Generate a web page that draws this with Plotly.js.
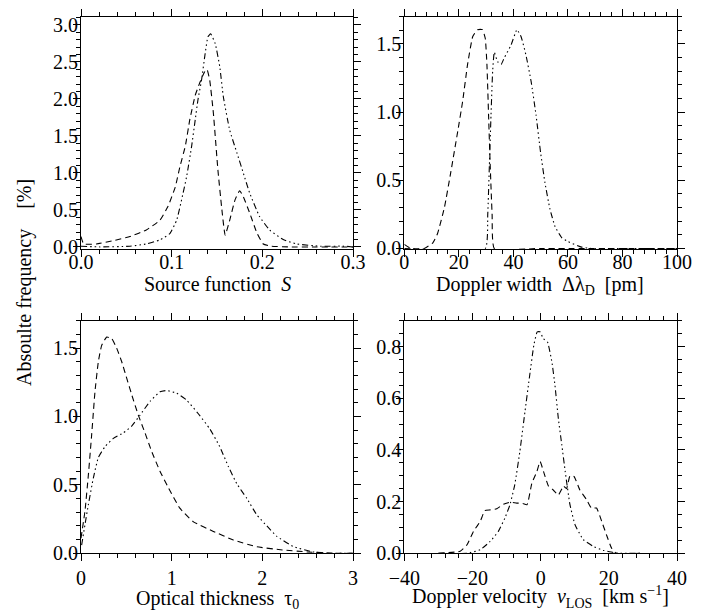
<!DOCTYPE html>
<html>
<head>
<meta charset="utf-8">
<script src="https://cdn.plot.ly/plotly-3.0.1.min.js"></script>
<style>html,body{margin:0;padding:0;background:#fff}#chart{width:711px;height:612px}</style>
</head>
<body>
<div id="chart"></div>
<script>
// Panel 1: Source function S
const srcDashX = [0.000,0.003,0.017,0.036,0.054,0.072,0.087,0.096,0.104,0.109,0.115,0.120,0.126,0.131,0.136,0.139,0.142,0.146,0.151,0.155,0.159,0.164,0.170,0.175,0.179,0.186,0.194,0.201,0.210,0.230,0.260,0.300];
const srcDashY = [0.14,0.04,0.04,0.085,0.14,0.23,0.36,0.55,0.81,1.08,1.36,1.72,2.05,2.22,2.36,2.40,2.25,1.81,1.04,0.55,0.16,0.36,0.64,0.76,0.68,0.46,0.19,0.04,0.01,0.0,0.0,0.0];
const srcDdX = [0.000,0.021,0.054,0.072,0.087,0.098,0.1055,0.111,0.1165,0.122,0.126,0.129,0.133,0.137,0.140,0.143,0.148,0.153,0.157,0.164,0.172,0.179,0.186,0.197,0.208,0.223,0.238,0.264,0.290,0.300];
const srcDdY = [0.01,0.0,0.01,0.04,0.095,0.18,0.36,0.64,0.95,1.36,1.72,1.99,2.26,2.62,2.84,2.88,2.75,2.44,2.03,1.58,1.27,1.0,0.73,0.41,0.23,0.10,0.04,0.01,0.01,0.0];

// Panel 2: Doppler width [pm]
const dwDashX = [0,2.4,7.3,10.4,12.2,14.7,17.1,19.6,21.4,23.2,25.1,26.9,28.7,29.7,30.3,30.9,31.5,32.2,33.0,50,100];
const dwDashY = [0.03,0,0,0.04,0.11,0.30,0.565,0.86,1.08,1.35,1.555,1.605,1.605,1.54,1.35,0.98,0.61,0.25,0,0,0];
const dwDdX = [0,29.7,30.6,31.2,31.8,32.4,33.0,34.2,35.5,36.7,39.1,41.3,42.8,44.6,46.5,48.3,50.0,51.6,53.4,55.3,57.7,60.1,65.0,68.7,100];
const dwDdY = [0,0,0.25,0.61,0.98,1.30,1.44,1.37,1.35,1.40,1.49,1.605,1.555,1.42,1.225,0.98,0.70,0.48,0.29,0.16,0.08,0.05,0.01,0,0];

// Panel 3: Optical thickness tau0
const otDashX = [0,0.044,0.081,0.118,0.154,0.191,0.228,0.283,0.338,0.393,0.449,0.504,0.559,0.632,0.706,0.779,0.871,0.963,1.09,1.24,1.46,1.68,1.94,2.2,2.5,2.8,3.0];
const otDashY = [0.11,0.31,0.57,0.87,1.18,1.40,1.52,1.58,1.57,1.50,1.40,1.28,1.16,1.01,0.88,0.745,0.60,0.48,0.33,0.23,0.16,0.097,0.048,0.026,0.01,0,0];
const otDdX = [0.007,0.044,0.081,0.136,0.191,0.265,0.357,0.467,0.559,0.651,0.761,0.871,0.945,1.055,1.165,1.294,1.42,1.53,1.625,1.717,1.83,1.94,2.05,2.16,2.34,2.56,2.78,3.0];
const otDdY = [0.06,0.21,0.355,0.55,0.70,0.78,0.84,0.88,0.93,1.01,1.11,1.18,1.19,1.17,1.12,1.02,0.91,0.78,0.635,0.51,0.40,0.28,0.20,0.124,0.05,0.01,0,0];

// Panel 4: Doppler velocity vLOS [km/s]
const dvDashX = [-30,-23.6,-21.6,-19.7,-17.7,-16.4,-14.8,-12.9,-10.9,-8.9,-7.0,-5.5,-4.0,-2.6,-1.1,-0.15,0.83,2.3,3.7,5.2,6.7,7.6,8.6,9.8,11.5,13.5,14.9,16.4,17.9,19.3,20.8,22.2,30];
const dvDashY = [0,0.008,0.033,0.085,0.124,0.165,0.168,0.172,0.19,0.198,0.194,0.194,0.188,0.27,0.317,0.355,0.317,0.26,0.245,0.226,0.26,0.25,0.30,0.297,0.245,0.207,0.175,0.175,0.124,0.072,0.02,0,0];
const dvDdX = [-30,-21.6,-17.7,-14.8,-12.4,-10.5,-9.0,-7.6,-6.1,-4.6,-3.2,-2.0,-1.0,-0.2,0.8,2.0,3.3,4.2,5.2,6.2,7.2,8.6,10.1,12.5,15.4,18.3,21.3,23,30];
const dvDdY = [0,0,0.014,0.046,0.085,0.136,0.188,0.265,0.394,0.548,0.69,0.805,0.857,0.857,0.83,0.818,0.74,0.65,0.52,0.42,0.317,0.188,0.11,0.053,0.027,0.012,0.003,0,0];

const DASH = '6px,4px';
const DASHDOT3 = '6px,3px,1.5px,3px,1.5px,3px,1.5px,3px';
function line(x, y, dash, xa, ya) {
  return {x: x, y: y, type: 'scatter', mode: 'lines', xaxis: xa, yaxis: ya,
          line: {color: 'black', width: 1.1, dash: dash, shape: 'spline', smoothing: 0.4},
          hoverinfo: 'skip', showlegend: false};
}
const traces = [
  line(srcDashX, srcDashY, DASH, 'x', 'y'),
  line(srcDdX, srcDdY, DASHDOT3, 'x', 'y'),
  line(dwDashX, dwDashY, DASH, 'x2', 'y2'),
  line(dwDdX, dwDdY, DASHDOT3, 'x2', 'y2'),
  line(otDashX, otDashY, DASH, 'x3', 'y3'),
  line(otDdX, otDdY, DASHDOT3, 'x3', 'y3'),
  line(dvDashX, dvDashY, DASH, 'x4', 'y4'),
  line(dvDdX, dvDdY, DASHDOT3, 'x4', 'y4')
];

const FONT = 'Liberation Serif';
function ax(extra) {
  return Object.assign({
    showline: true, linecolor: 'black', linewidth: 1, mirror: 'allticks',
    ticks: 'outside', ticklen: 7, tickwidth: 1, tickcolor: 'black',
    showgrid: false, zeroline: false, fixedrange: true,
    tickmode: 'linear',
    tickfont: {family: FONT, size: 20, color: 'black'},
  }, extra);
}
function minor(d) { return {dtick: d, ticks: 'outside', ticklen: 4, tickwidth: 1, tickcolor: 'black', showgrid: false}; }

const W = 711, H = 612;
const xd1 = [81 / W, 353 / W], xd2 = [404.3 / W, 677 / W];
const ydTop = [1 - 249.3 / H, 1 - 16.7 / H], ydBot = [1 - 553.3 / H, 1 - 320.7 / H];

function ann(text, px, py, extra) {
  return Object.assign({text: text, xref: 'paper', yref: 'paper', x: px / W, y: 1 - py / H,
    xanchor: 'center', yanchor: 'middle', showarrow: false,
    font: {family: FONT, size: 20, color: 'black'}}, extra || {});
}
const NB = '\u00a0';
const YSTAND = -9, XTOP = -12;

const layout = {
  width: W, height: H,
  margin: {l: 0, r: 0, t: 0, b: 0},
  paper_bgcolor: 'white', plot_bgcolor: 'white',
  showlegend: false,
  font: {family: FONT, size: 20, color: 'black'},
  xaxis: ax({domain: xd1, anchor: 'y', range: [0, 0.3], tick0: 0, dtick: 0.1, tickformat: '.1f', minor: minor(0.02), ticklabelstandoff: XTOP}),
  yaxis: ax({domain: ydTop, anchor: 'x', range: [-0.032, 3.112], tick0: 0, dtick: 0.5, tickformat: '.1f', minor: minor(0.1), ticklabelstandoff: YSTAND}),
  xaxis2: ax({domain: xd2, anchor: 'y2', range: [0, 100], tick0: 0, dtick: 20, minor: minor(4), ticklabelstandoff: XTOP}),
  yaxis2: ax({domain: ydTop, anchor: 'x2', range: [-0.006, 1.70], tick0: 0, dtick: 0.5, tickformat: '.1f', minor: minor(0.1), ticklabelstandoff: YSTAND}),
  xaxis3: ax({domain: xd1, anchor: 'y3', range: [0, 3], tick0: 0, dtick: 1, minor: minor(0.2)}),
  yaxis3: ax({domain: ydBot, anchor: 'x3', range: [0, 1.70], tick0: 0, dtick: 0.5, tickformat: '.1f', minor: minor(0.1), ticklabelstandoff: YSTAND}),
  xaxis4: ax({domain: xd2, anchor: 'y4', range: [-40, 40], tick0: -40, dtick: 20, minor: minor(4)}),
  yaxis4: ax({domain: ydBot, anchor: 'x4', range: [0, 0.9], tick0: 0, dtick: 0.2, tickformat: '.1f', minor: minor(0.05), ticklabelstandoff: YSTAND}),
  annotations: [
    ann('Source function' + NB + NB + '<i>S</i>', 217, 284),
    ann('Doppler width' + NB + NB + '\u0394\u03bb<sub>D</sub>' + NB + NB + '[pm]', 540, 285),
    ann('Optical thickness' + NB + NB + '\u03c4<sub>0</sub>', 217, 599),
    ann('Doppler velocity' + NB + NB + '<i>v</i><sub>LOS</sub>' + NB + NB + '[km s<sup>\u22121</sup>]', 540, 597),
    ann('Absoulte frequency' + NB + NB + NB + NB + '[%]', 24, 283, {textangle: -90})
  ]
};

Plotly.newPlot('chart', traces, layout, {staticPlot: true, displayModeBar: false});
</script>
</body>
</html>
